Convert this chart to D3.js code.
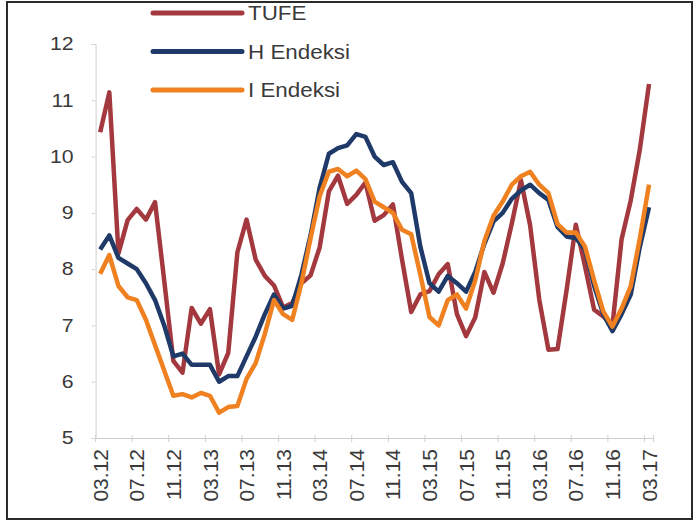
<!DOCTYPE html>
<html><head><meta charset="utf-8">
<script src="https://cdn.jsdelivr.net/npm/d3@7/dist/d3.min.js"></script>
<style>html,body{margin:0;padding:0;background:#fff;}svg{display:block;}</style>
</head><body><svg id="c" width="698" height="523"></svg>
<script>
const months = ["03.12","04.12","05.12","06.12","07.12","08.12","09.12","10.12","11.12","12.12",
"01.13","02.13","03.13","04.13","05.13","06.13","07.13","08.13","09.13","10.13","11.13","12.13",
"01.14","02.14","03.14","04.14","05.14","06.14","07.14","08.14","09.14","10.14","11.14","12.14",
"01.15","02.15","03.15","04.15","05.15","06.15","07.15","08.15","09.15","10.15","11.15","12.15",
"01.16","02.16","03.16","04.16","05.16","06.16","07.16","08.16","09.16","10.16","11.16","12.16",
"01.17","02.17","03.17"];
const tickLabels = ["03.12","07.12","11.12","03.13","07.13","11.13","03.14","07.14","11.14","03.15","07.15","11.15","03.16","07.16","11.16","03.17"];
const yTicks = [5,6,7,8,9,10,11,12];
const tufe = [10.43,11.14,8.28,8.87,9.07,8.88,9.19,7.80,6.37,6.16,
7.31,7.03,7.29,6.13,6.51,8.30,8.88,8.17,7.88,7.71,7.32,7.40,
7.75,7.89,8.39,9.38,9.66,9.16,9.32,9.54,8.86,8.96,9.15,8.17,
7.24,7.55,7.61,7.91,8.09,7.20,6.81,7.14,7.95,7.58,8.10,8.81,
9.58,8.78,7.46,6.57,6.58,7.64,8.79,8.05,7.28,7.16,7.00,8.53,
9.22,10.13,11.29];
const hEndeksi = [8.35,8.6,8.2,8.1,8.0,7.75,7.45,7.0,6.45,6.5,
6.3,6.3,6.3,6.0,6.1,6.1,6.45,6.8,7.2,7.55,7.3,7.35,
7.9,8.6,9.45,10.05,10.15,10.2,10.4,10.35,10.0,9.85,9.9,9.55,
9.35,8.4,7.75,7.6,7.88,7.75,7.6,7.95,8.45,8.85,9.0,9.25,
9.4,9.5,9.35,9.23,8.75,8.58,8.55,8.35,7.7,7.2,6.9,7.2,
7.55,8.4,9.1];
const iEndeksi = [7.92,8.25,7.7,7.5,7.45,7.1,6.65,6.2,5.75,5.78,
5.72,5.8,5.75,5.45,5.55,5.57,6.05,6.33,6.85,7.45,7.2,7.1,
7.75,8.55,9.3,9.73,9.78,9.65,9.75,9.6,9.2,9.1,9.0,8.7,
8.62,7.9,7.15,7.0,7.45,7.55,7.3,7.8,8.5,8.95,9.2,9.5,
9.65,9.73,9.5,9.35,8.8,8.65,8.65,8.4,7.8,7.25,6.98,7.3,
7.7,8.55,9.5];
const seriesNames = ["TUFE","H Endeksi","I Endeksi"];
const seriesColors = ["#A3393E","#1F3A68","#EF8120"];

const svg = d3.select("#c");
const font = "'Liberation Sans', Arial, sans-serif";

// frame
svg.append("rect").attr("x",7).attr("y",2).attr("width",685).attr("height",517)
  .attr("fill","#fff").attr("stroke","#2b2b2b").attr("stroke-width",2);

const x = d3.scaleBand().domain(months).range([95.6,653.6]).padding(0);
const y = d3.scaleLinear().domain([5,12]).range([438,44]);
const cx = m => x(m) + x.bandwidth()/2;

// y axis
const yAxis = d3.axisLeft(y).tickValues(yTicks).tickSize(4).tickPadding(18).tickFormat(d3.format("d"));
const gy = svg.append("g").attr("transform","translate(95.6,0)").call(yAxis);
gy.select(".domain").attr("stroke","#cfcfcf");
gy.selectAll(".tick line").attr("stroke","#d5d5d5");
gy.selectAll(".tick text").attr("font-family",font).attr("font-size",18).attr("fill","#3a3a3a")
  .attr("text-anchor","end")
  .each(function(){ const t=d3.select(this); const ty=+t.attr("y")||0; });
gy.selectAll(".tick text").attr("transform","translate(-22,0) scale(1.18,1)").attr("x",0);

// x axis line + boundary ticks
const gx = svg.append("g").attr("transform","translate(0,438)");
const xAxis = d3.axisBottom(x).tickValues(tickLabels).tickSize(0).tickPadding(0);
gx.call(xAxis);
gx.select(".domain").attr("stroke","#cfcfcf");
gx.selectAll(".tick text").attr("font-family",font).attr("font-size",21).attr("fill","#3a3a3a")
  .attr("text-anchor","end").attr("y",0).attr("dy","0.36em")
  .attr("transform","translate(0,11) rotate(-90)").attr("x",0);
const bounds = tickLabels.map(t => x(t)).concat([x(months[months.length-1]) + x.bandwidth()]);
gx.selectAll("line.bt").data(bounds).enter().append("line").attr("class","bt")
  .attr("x1",d=>d).attr("x2",d=>d).attr("y1",-3).attr("y2",4).attr("stroke","#d0d0d0");

// lines
const data = [tufe,hEndeksi,iEndeksi];
const line = d3.line().x((d,i)=>cx(months[i])).y(d=>y(d));
data.forEach((s,k)=>{
  svg.append("path").attr("d",line(s)).attr("fill","none").attr("stroke",seriesColors[k])
    .attr("stroke-width",4.5).attr("stroke-linejoin","round").attr("stroke-linecap","butt");
});

// legend
const legY = [13,51.5,90];
seriesNames.forEach((n,k)=>{
  svg.append("line").attr("x1",153).attr("x2",242).attr("y1",legY[k]).attr("y2",legY[k])
    .attr("stroke",seriesColors[k]).attr("stroke-width",5).attr("stroke-linecap","round");
  svg.append("text").attr("transform",`translate(248,${legY[k]+7}) scale(1.12,1)`)
    .attr("font-family",font).attr("font-size",20).attr("fill","#3a3a3a").text(n);
});
// redraw top border over legend text
svg.append("line").attr("x1",7).attr("x2",692).attr("y1",2).attr("y2",2).attr("stroke","#2b2b2b").attr("stroke-width",2);
</script></body></html>
